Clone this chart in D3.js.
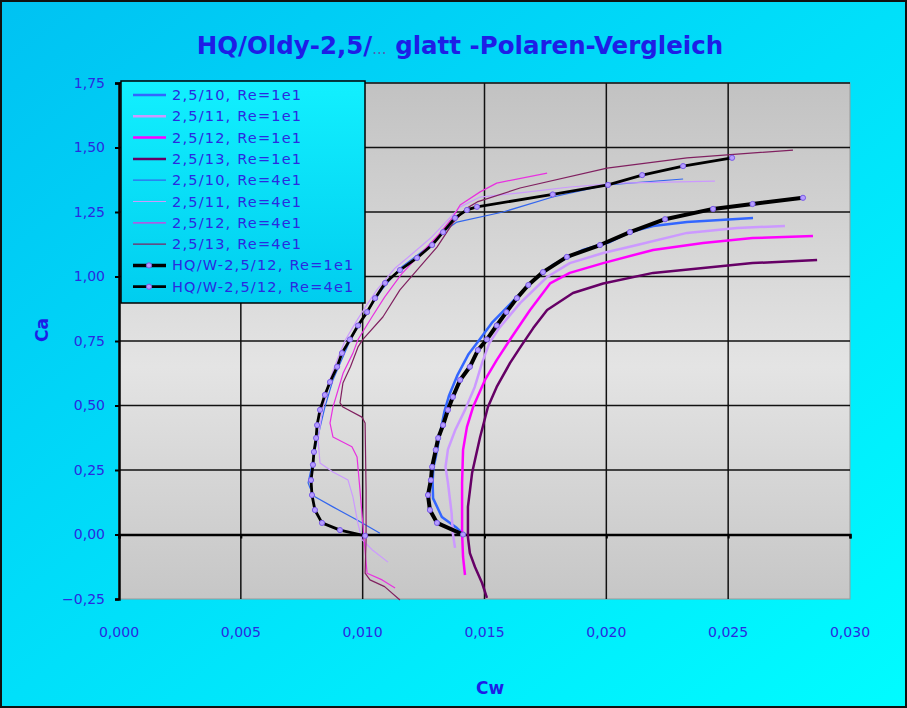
<!DOCTYPE html>
<html>
<head>
<meta charset="utf-8">
<script src="https://cdn.jsdelivr.net/npm/d3@7"></script>
<style>
  html,body{margin:0;padding:0;background:#fff;}
  svg{display:block;}
  text{font-family:"DejaVu Sans","Noto Sans",sans-serif;}
</style>
</head>
<body>
<svg id="chart" width="907" height="708"></svg>
<script>
// ---------- data ----------
const title = "HQ/Oldy-2,5/";
const titleDots = "...";
const titleRest = " glatt -Polaren-Vergleich";
const xLabel = "Cw";
const yLabel = "Ca";
const xTicks = [0, 0.005, 0.010, 0.015, 0.020, 0.025, 0.030];
const yTicks = [-0.25, 0, 0.25, 0.5, 0.75, 1.0, 1.25, 1.5, 1.75];

const seriesNames = ["2,5/10, Re=1e1","2,5/11, Re=1e1","2,5/12, Re=1e1","2,5/13, Re=1e1",
  "2,5/10, Re=4e1","2,5/11, Re=4e1","2,5/12, Re=4e1","2,5/13, Re=4e1",
  "HQ/W-2,5/12, Re=1e1","HQ/W-2,5/12, Re=4e1"];

// [Cw, Ca]
const s10_1e1 = [[0.0141,0.005],[0.01387,0.025],[0.01325,0.068],[0.01289,0.14],[0.01287,0.20],[0.0129,0.26],[0.0130,0.30],[0.01315,0.378],[0.01335,0.475],[0.01355,0.54],[0.0139,0.62],[0.01435,0.70],[0.0148,0.756],[0.0153,0.82],[0.01592,0.88],[0.01687,0.973],[0.01781,1.045],[0.01904,1.103],[0.02015,1.134],[0.02097,1.172],[0.02192,1.196],[0.02331,1.211],[0.02467,1.219],[0.02602,1.227]];
const s11_1e1 = [[0.01379,-0.052],[0.0137,0.005],[0.01365,0.083],[0.0135,0.2],[0.0134,0.262],[0.0135,0.33],[0.0138,0.405],[0.0142,0.483],[0.0146,0.572],[0.0149,0.665],[0.0152,0.742],[0.0156,0.80],[0.01646,0.897],[0.01757,0.998],[0.0185,1.052],[0.01987,1.091],[0.02126,1.122],[0.02331,1.169],[0.02536,1.188],[0.02733,1.196]];
const s12_1e1 = [[0.0142,-0.157],[0.01412,-0.087],[0.01408,0.005],[0.01408,0.2],[0.01412,0.328],[0.01428,0.417],[0.01453,0.494],[0.01502,0.599],[0.0155,0.676],[0.01605,0.756],[0.01687,0.87],[0.01769,0.973],[0.0185,1.014],[0.01987,1.052],[0.02192,1.103],[0.02397,1.13],[0.026,1.149],[0.02848,1.157]];
const s13_1e1 = [[0.0151,-0.246],[0.0149,-0.188],[0.01461,-0.126],[0.0144,-0.072],[0.01432,-0.01],[0.01432,0.107],[0.01449,0.238],[0.01482,0.378],[0.01514,0.494],[0.0155,0.572],[0.01605,0.665],[0.0165,0.73],[0.0170,0.80],[0.01757,0.87],[0.01863,0.936],[0.01987,0.973],[0.02192,1.014],[0.02397,1.033],[0.026,1.052],[0.02865,1.064]];
const s10_4e1 = [[0.01071,0.005],[0.00977,0.056],[0.00878,0.107],[0.00804,0.146],[0.00784,0.18],[0.00776,0.2],[0.0079,0.262],[0.00813,0.366],[0.00845,0.494],[0.00878,0.599],[0.00919,0.688],[0.0095,0.756],[0.0099,0.82],[0.0103,0.88],[0.0108,0.95],[0.0115,1.03],[0.0122,1.08],[0.0129,1.13],[0.0134,1.18],[0.01387,1.211],[0.01576,1.25],[0.0178,1.308],[0.02003,1.355],[0.02315,1.378]];
const s11_4e1 = [[0.01104,-0.107],[0.0104,-0.06],[0.00997,-0.02],[0.0098,0.045],[0.0096,0.146],[0.0094,0.211],[0.00878,0.242],[0.00825,0.277],[0.00817,0.366],[0.00833,0.471],[0.0086,0.587],[0.009,0.688],[0.0093,0.756],[0.0097,0.82],[0.0101,0.88],[0.0106,0.95],[0.0113,1.03],[0.01207,1.091],[0.0128,1.15],[0.0134,1.21],[0.0140,1.27],[0.01482,1.308],[0.01646,1.324],[0.0185,1.347],[0.02056,1.362],[0.02446,1.37]];
const s12_4e1 = [[0.01133,-0.207],[0.0108,-0.176],[0.01018,-0.15],[0.01006,-0.02],[0.00989,0.172],[0.00977,0.30],[0.00956,0.34],[0.00878,0.378],[0.00866,0.432],[0.00878,0.494],[0.00899,0.56],[0.0092,0.626],[0.0096,0.703],[0.00981,0.756],[0.01038,0.843],[0.0109,0.92],[0.0116,1.01],[0.0124,1.09],[0.0131,1.16],[0.0137,1.23],[0.0140,1.277],[0.01482,1.328],[0.0155,1.362],[0.01757,1.401]];
const s13_4e1 = [[0.01153,-0.254],[0.0109,-0.202],[0.0103,-0.176],[0.0101,-0.15],[0.01014,-0.02],[0.01014,0.172],[0.0101,0.432],[0.00997,0.455],[0.00919,0.494],[0.00907,0.51],[0.00919,0.587],[0.0095,0.65],[0.00981,0.727],[0.01001,0.756],[0.01083,0.843],[0.01153,0.948],[0.01223,1.025],[0.01305,1.114],[0.0137,1.207],[0.01428,1.265],[0.0147,1.289],[0.01646,1.343],[0.02003,1.42],[0.02331,1.46],[0.02766,1.49]];
const hq_1e1 = [[0.01412,0.00],[0.01305,0.045],[0.01276,0.095],[0.01268,0.153],[0.0128,0.211],[0.01285,0.262],[0.0130,0.328],[0.0131,0.374],[0.0133,0.424],[0.0135,0.483],[0.0137,0.533],[0.0140,0.599],[0.0144,0.650],[0.01473,0.715],[0.0151,0.756],[0.0155,0.81],[0.0159,0.862],[0.01633,0.916],[0.0168,0.967],[0.0174,1.017],[0.01838,1.076],[0.01974,1.122],[0.02097,1.172],[0.02241,1.222],[0.02438,1.262],[0.0260,1.281],[0.02807,1.305]];
const hq_4e1 = [[0.0101,-0.005],[0.00907,0.017],[0.00833,0.045],[0.00804,0.095],[0.00792,0.153],[0.00788,0.211],[0.00796,0.27],[0.0080,0.32],[0.00809,0.374],[0.00813,0.424],[0.00825,0.483],[0.00845,0.541],[0.00866,0.591],[0.00895,0.65],[0.00915,0.703],[0.00948,0.756],[0.00981,0.81],[0.01018,0.862],[0.01051,0.916],[0.01092,0.975],[0.01153,1.025],[0.01223,1.072],[0.01285,1.122],[0.0133,1.172],[0.01379,1.227],[0.01428,1.258],[0.01469,1.27],[0.0178,1.318],[0.02007,1.355],[0.02147,1.393],[0.02315,1.428],[0.02516,1.46]];

const seriesData = [s10_1e1,s11_1e1,s12_1e1,s13_1e1,s10_4e1,s11_4e1,s12_4e1,s13_4e1,hq_1e1,hq_4e1];
const seriesColors = ["#3366ff","#cc99ff","#ff00ff","#660066","#3366ee","#cc99ff","#e830e0","#802060","#000000","#000000"];
const seriesWidths = [2.5,2.5,2.5,2.5,1.2,1.2,1.2,1.2,4,2.8];
const seriesMarkers = [false,false,false,false,false,false,false,false,true,true];

// ---------- drawing ----------
const svg = d3.select("#chart");
const W = 907, H = 708;
const x = d3.scaleLinear().domain([0, 0.03]).range([119, 850]);
const y = d3.scaleLinear().domain([-0.25, 1.75]).range([599, 83]);
const fmt = d => d3.format(".3f")(d).replace(".", ",");
const fmtY = d => d3.format(".2f")(d).replace(".", ",");
const textColor = "#2a2ae0";

const defs = svg.append("defs");
const bg = defs.append("linearGradient").attr("id","bg").attr("x1","0").attr("y1","0").attr("x2","1").attr("y2","1");
bg.append("stop").attr("offset","0").attr("stop-color","#00c2f2");
bg.append("stop").attr("offset","0.5").attr("stop-color","#00e0fa");
bg.append("stop").attr("offset","1").attr("stop-color","#00fcff");
const pg = defs.append("linearGradient").attr("id","pg").attr("x1","0").attr("y1","0").attr("x2","0").attr("y2","1");
pg.append("stop").attr("offset","0").attr("stop-color","#c2c2c2");
pg.append("stop").attr("offset","0.55").attr("stop-color","#e4e4e4");
pg.append("stop").attr("offset","1").attr("stop-color","#c6c6c6");
const lg = defs.append("linearGradient").attr("id","lg").attr("x1","0").attr("y1","0").attr("x2","0").attr("y2","1");
lg.append("stop").attr("offset","0").attr("stop-color","#12f0ff");
lg.append("stop").attr("offset","1").attr("stop-color","#00cdef");

svg.append("rect").attr("x",1).attr("y",1).attr("width",W-2).attr("height",H-2)
  .attr("fill","url(#bg)").attr("stroke","#111").attr("stroke-width",2);

// plot area
svg.append("rect").attr("x",x(0)).attr("y",y(1.75)).attr("width",x(0.03)-x(0)).attr("height",y(-0.25)-y(1.75))
  .attr("fill","url(#pg)").attr("stroke","#999").attr("stroke-width",1);

// gridlines
svg.append("g").selectAll("line").data(yTicks.filter(d => d !== 0 && d !== -0.25)).join("line")
  .attr("x1",x(0)).attr("x2",x(0.03)).attr("y1",d=>y(d)).attr("y2",d=>y(d))
  .attr("stroke","#111").attr("stroke-width",1.5);
svg.append("g").selectAll("line").data(xTicks.filter(d => d > 0 && d < 0.03)).join("line")
  .attr("y1",y(1.75)).attr("y2",y(-0.25)).attr("x1",d=>x(d)).attr("x2",d=>x(d))
  .attr("stroke","#111").attr("stroke-width",1.5);

// axes
const yAxis = svg.append("g").attr("transform",`translate(${x(0)},0)`)
  .call(d3.axisLeft(y).tickValues(yTicks).tickFormat(fmtY).tickSize(4).tickPadding(10));
yAxis.select(".domain").attr("stroke","#000").attr("stroke-width",2.5);
yAxis.selectAll(".tick line").attr("stroke","#000").attr("stroke-width",2);
yAxis.selectAll("text").attr("fill",textColor).attr("font-size",14).attr("font-family","DejaVu Sans");

const xAxis = svg.append("g").attr("transform",`translate(0,${y(0)})`)
  .call(d3.axisBottom(x).tickValues(xTicks).tickFormat(fmt).tickSize(4).tickPadding(0));
xAxis.select(".domain").attr("stroke","#000").attr("stroke-width",2.5);
xAxis.selectAll(".tick line").attr("stroke","#000").attr("stroke-width",2);
xAxis.selectAll("text").remove();
svg.append("g").selectAll("text").data(xTicks).join("text")
  .attr("x",d=>x(d)).attr("y",y(-0.25)+38).attr("text-anchor","middle")
  .attr("fill",textColor).attr("font-size",14).text(fmt);

// series
const line = d3.line().x(d=>x(d[0])).y(d=>y(d[1]));
const gS = svg.append("g");
seriesData.forEach((data,i) => {
  gS.append("path").attr("d",line(data)).attr("fill","none")
    .attr("stroke",seriesColors[i]).attr("stroke-width",seriesWidths[i])
    .attr("stroke-linejoin","round");
});
seriesData.forEach((data,i) => {
  if (!seriesMarkers[i]) return;
  gS.append("g").selectAll("circle").data(data).join("circle")
    .attr("cx",d=>x(d[0])).attr("cy",d=>y(d[1])).attr("r",2.6)
    .attr("fill","#b59cff").attr("stroke","#7a5ce6").attr("stroke-width",1);
});

// title
const t = svg.append("text").attr("x",460).attr("y",54).attr("text-anchor","middle")
  .attr("fill","#1e1ee6").attr("font-weight","bold").attr("font-size",24.5);
t.append("tspan").text(title);
t.append("tspan").attr("font-size",15).attr("font-weight","normal").attr("fill","#5a5ab0").text(titleDots);
t.append("tspan").text(titleRest);

// axis titles
svg.append("text").attr("x",490).attr("y",694).attr("text-anchor","middle")
  .attr("fill","#1e1ee6").attr("font-weight","bold").attr("font-size",17).text(xLabel);
svg.append("text").attr("transform","translate(48,330) rotate(-90)").attr("text-anchor","middle")
  .attr("fill","#1e1ee6").attr("font-weight","bold").attr("font-size",17).text(yLabel);

// legend
const lgX = 121, lgY = 81, lgW = 244, lgH = 222, rowH = 21.3;
const leg = svg.append("g");
leg.append("rect").attr("x",lgX).attr("y",lgY).attr("width",lgW).attr("height",lgH)
  .attr("fill","url(#lg)").attr("stroke","#000").attr("stroke-width",1.5);
const rows = leg.selectAll("g.row").data(seriesNames).join("g").attr("class","row")
  .attr("transform",(d,i)=>`translate(${lgX},${lgY + 14 + i*rowH})`);
rows.append("line").attr("x1",12).attr("x2",45).attr("y1",0).attr("y2",0)
  .attr("stroke",(d,i)=>seriesColors[i]).attr("stroke-width",(d,i)=>Math.min(seriesWidths[i],3.5));
rows.filter((d,i)=>seriesMarkers[i]).append("circle").attr("cx",28).attr("cy",0).attr("r",2.6)
  .attr("fill","#b59cff").attr("stroke","#7a5ce6");
rows.append("text").attr("x",51).attr("y",5).attr("fill",textColor).attr("font-size",14.5)
  .attr("letter-spacing",1.2).text(d=>d);
</script>
</body>
</html>
